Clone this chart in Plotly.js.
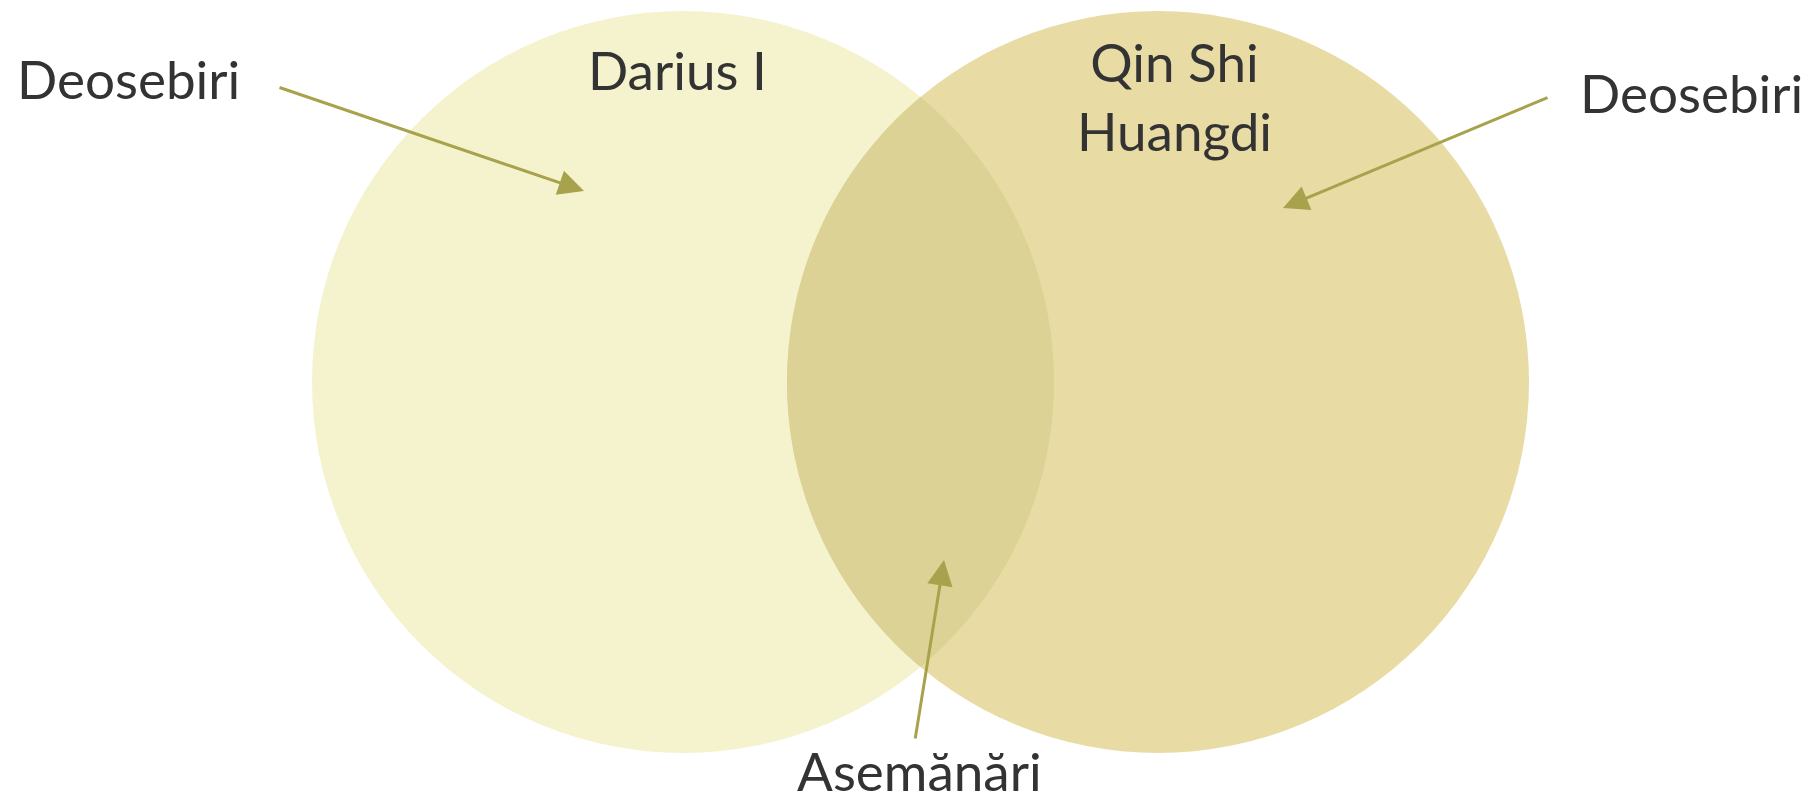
<!DOCTYPE html>
<html>
<head>
<meta charset="utf-8">
<script src="https://cdn.plot.ly/plotly-3.0.1.min.js"></script>
<style>html,body{margin:0;padding:0;background:#fff;}#chart{width:1809px;height:801px;}</style>
</head>
<body>
<div id="chart"></div>
<script>
// ---- data ----
const setNames = ["Darius I", "Qin Shi<br>Huangdi"];
const regionLabels = ["Deosebiri", "Deosebiri", "Asemănări"];
const setColors = ["#F5F3CE", "#E8DCA4"];
const overlapColor = "#DCD295";

// ---- geometry (layout) ----
const circles = [
  {cx: 683, cy: 382, r: 371},
  {cx: 1158, cy: 382, r: 371}
];
const W = 1809, H = 801;
const textColor = "#333333";
const arrowColor = "#A9A24C";
const font = "Lato, 'Open Sans', sans-serif";

function lensPath(c1, c2, n) {
  const dx = c2.cx - c1.cx, dy = c2.cy - c1.cy;
  const d = Math.hypot(dx, dy);
  const a = (d*d + c1.r*c1.r - c2.r*c2.r) / (2*d);
  const base = Math.atan2(dy, dx);
  const t1 = Math.acos(a / c1.r);
  const t2 = Math.acos((d - a) / c2.r);
  let pts = [];
  for (let i = 0; i <= n; i++) {
    const t = base - t1 + (2*t1) * i / n;
    pts.push([c1.cx + c1.r*Math.cos(t), c1.cy + c1.r*Math.sin(t)]);
  }
  for (let i = 0; i <= n; i++) {
    const t = base + Math.PI - t2 + (2*t2) * i / n;
    pts.push([c2.cx + c2.r*Math.cos(t), c2.cy + c2.r*Math.sin(t)]);
  }
  return "M" + pts.map(p => p[0].toFixed(2) + "," + p[1].toFixed(2)).join("L") + "Z";
}

const shapes = circles.map((c, i) => ({
  type: "circle", xref: "x", yref: "y",
  x0: c.cx - c.r, x1: c.cx + c.r, y0: c.cy - c.r, y1: c.cy + c.r,
  fillcolor: setColors[i], line: {width: 0}, layer: "below"
}));
shapes.push({
  type: "path", xref: "x", yref: "y", path: lensPath(circles[0], circles[1], 120),
  fillcolor: overlapColor, line: {width: 0}, layer: "below"
});

const fs = 53;
const annotations = [
  {x: 677, y: 69, text: setNames[0]},
  {x: 1174, y: 96, text: setNames[1]},
  {x: 128, y: 78, text: regionLabels[0]},
  {x: 1691, y: 92, text: regionLabels[1]},
  {x: 919, y: 770, text: regionLabels[2]}
].map(a => ({
  x: a.x, y: a.y, xref: "x", yref: "y", text: a.text, showarrow: false,
  font: {family: font, size: fs, color: textColor}, xanchor: "center", yanchor: "middle",
  align: "center"
}));

const arrows = [
  {x: 584, y: 191, ax: 278, ay: 87},
  {x: 1283, y: 208, ax: 1549, ay: 97},
  {x: 944, y: 560, ax: 915, ay: 740}
];
arrows.forEach(a => annotations.push({
  x: a.x, y: a.y, ax: a.ax, ay: a.ay, xref: "x", yref: "y", axref: "x", ayref: "y",
  text: "", showarrow: true, arrowhead: 2, arrowsize: 1.7, arrowwidth: 3,
  arrowcolor: arrowColor, standoff: 0, startstandoff: 0
}));

const layout = {
  width: W, height: H,
  margin: {l: 0, r: 0, t: 0, b: 0},
  paper_bgcolor: "#ffffff", plot_bgcolor: "#ffffff",
  xaxis: {range: [0, W], visible: false, fixedrange: true},
  yaxis: {range: [H, 0], visible: false, fixedrange: true},
  shapes: shapes, annotations: annotations, showlegend: false
};

Plotly.newPlot("chart", [], layout, {staticPlot: true, displayModeBar: false});
</script>
</body>
</html>
